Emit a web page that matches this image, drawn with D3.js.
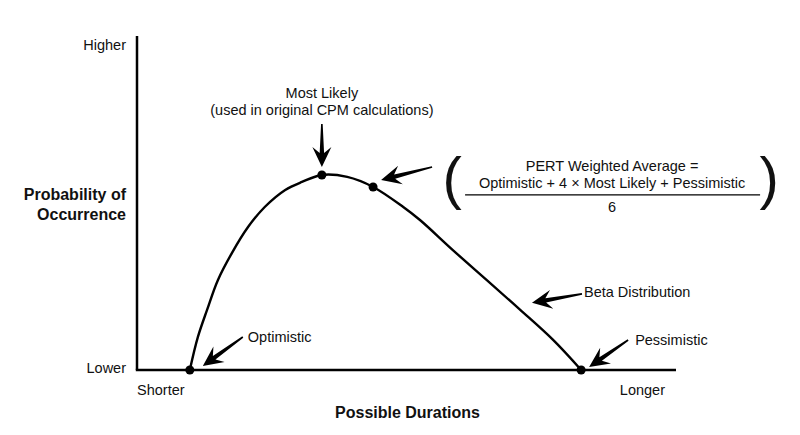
<!DOCTYPE html>
<html>
<head>
<meta charset="utf-8">
<script src="https://cdn.jsdelivr.net/npm/d3@7"></script>
<style>
  body { margin: 0; background: #fff; }
  text { font-family: "Liberation Sans", Arial, sans-serif; fill: #111; }
</style>
</head>
<body>
<svg id="chart"></svg>
<script>
// curve (x: 0 = shorter, 100 = longer; y: 0 = lower, 100 = higher)
const curveX = [9.8, 11.3, 13.0, 15.0, 17.6, 20.6, 23.7, 27.5, 30.6, 34.3, 39.0, 43.8, 49.4, 52.5, 58.6, 64.9, 71.1, 77.2, 82.4];
const curveY = [0, 9.9, 18.0, 26.9, 35.0, 42.8, 48.8, 53.9, 56.3, 58.4, 57.8, 54.8, 48.8, 44.9, 35.9, 26.9, 18.0, 9.0, 0];

// marked points on the curve
const pointNames = ['Optimistic', 'Most Likely', 'PERT', 'Pessimistic'];
const pointX = [9.8, 34.3, 43.8, 82.4];
const pointY = [0, 58.4, 54.8, 0];

// where the "Beta Distribution" arrow points at
const betaAt = [67.9, 20.1];

const yTickLabels = ['Lower', 'Higher'];
const xTickLabels = ['Shorter', 'Longer'];

const config = {
    width: 800,
    height: 435,
    margin: { top: 36, right: 124, bottom: 65, left: 137 }
};

const innerW = config.width - config.margin.left - config.margin.right;
const innerH = config.height - config.margin.top - config.margin.bottom;

const svg = d3.select('#chart')
    .attr('width', config.width)
    .attr('height', config.height);

const chart = svg.append('g')
    .attr('transform', `translate(${config.margin.left}, ${config.margin.top})`);

const x = d3.scaleLinear().domain([0, 100]).range([0, innerW]);
const y = d3.scaleLinear().domain([0, 100]).range([innerH, 0]);

// axes (plain lines, tick labels only at the ends)
chart.append('line')
    .attr('x1', x(0)).attr('x2', x(0))
    .attr('y1', y(100)).attr('y2', y(0))
    .attr('stroke', '#000').attr('stroke-width', 2.5);

chart.append('line')
    .attr('x1', x(0) - 1.2).attr('x2', x(100))
    .attr('y1', y(0)).attr('y2', y(0))
    .attr('stroke', '#000').attr('stroke-width', 2.5);

chart.selectAll('.y-tick')
    .data(yTickLabels)
    .enter().append('text')
    .attr('class', 'y-tick')
    .attr('x', -11)
    .attr('y', (d, i) => y(i * 100) + (i === 0 ? 3 : 14))
    .attr('text-anchor', 'end')
    .style('font-size', '14.5px')
    .text(d => d);

chart.selectAll('.x-tick')
    .data(xTickLabels)
    .enter().append('text')
    .attr('class', 'x-tick')
    .attr('x', (d, i) => i === 0 ? x(0) : x(100) - 11)
    .attr('y', y(0) + 25)
    .attr('text-anchor', (d, i) => i === 0 ? 'start' : 'end')
    .style('font-size', '14.5px')
    .text(d => d);

// axis titles
const yTitle = chart.append('text')
    .attr('text-anchor', 'end')
    .style('font-size', '16px')
    .style('font-weight', 'bold');
yTitle.append('tspan').attr('x', -11).attr('y', 164).text('Probability of');
yTitle.append('tspan').attr('x', -11).attr('y', 184).text('Occurrence');

chart.append('text')
    .attr('x', innerW / 2 + 1)
    .attr('y', y(0) + 48)
    .attr('text-anchor', 'middle')
    .style('font-size', '16px')
    .style('font-weight', 'bold')
    .text('Possible Durations');

// the beta curve
const curveData = curveX.map((d, i) => ({ x: d, y: curveY[i] }));
const line = d3.line()
    .x(d => x(d.x))
    .y(d => y(d.y))
    .curve(d3.curveCatmullRom.alpha(0.5));

chart.append('path')
    .datum(curveData)
    .attr('d', line)
    .attr('fill', 'none')
    .attr('stroke', '#000')
    .attr('stroke-width', 2.4);

const points = pointNames.map((d, i) => ({ name: d, x: pointX[i], y: pointY[i] }));

chart.selectAll('.dot')
    .data(points)
    .enter().append('circle')
    .attr('class', 'dot')
    .attr('cx', d => x(d.x))
    .attr('cy', d => y(d.y))
    .attr('r', 4.5)
    .attr('fill', '#000');

// arrow drawn as a tapered shaft with a swept head
function arrow(x1, y1, x2, y2) {
    const L = Math.hypot(x2 - x1, y2 - y1);
    const a = Math.atan2(y2 - y1, x2 - x1) * 180 / Math.PI;
    const hl = 20, hw = 9.5;
    const pts = [
        [0, -0.8], [L - hl * 0.7, -2.2], [L - hl, -hw], [L, 0],
        [L - hl, hw], [L - hl * 0.7, 2.2], [0, 0.8]
    ];
    chart.append('path')
        .attr('d', 'M' + pts.map(p => p.join(',')).join('L') + 'Z')
        .attr('transform', `translate(${x1},${y1}) rotate(${a})`)
        .attr('fill', '#000');
}

// annotations, offsets in pixels from their anchor
const annos = [
    { anchor: points[0], tail: [53, -33], tip: [13, -4], label: [58, -28], anchorText: 'start', lines: ['Optimistic'] },
    { anchor: points[1], tail: [0, -51], tip: [0, -8], label: [0, -77], anchorText: 'middle', lines: ['Most Likely', '(used in original CPM calculations)'] },
    { anchor: points[2], tail: [59, -20], tip: [8, -7], label: null },
    { anchor: points[3], tail: [47, -30], tip: [8, -3], label: [54, -25], anchorText: 'start', lines: ['Pessimistic'] },
    { anchor: { x: betaAt[0], y: betaAt[1] }, tail: [79, -9], tip: [29, 0], label: [81, -6], anchorText: 'start', lines: ['Beta Distribution'] }
];

annos.forEach(a => {
    const ax = x(a.anchor.x), ay = y(a.anchor.y);
    arrow(ax + a.tail[0], ay + a.tail[1], ax + a.tip[0], ay + a.tip[1]);
    if (!a.label) return;
    const t = chart.append('text')
        .attr('text-anchor', a.anchorText)
        .style('font-size', '14.5px');
    a.lines.forEach((s, i) => {
        t.append('tspan')
            .attr('x', ax + a.label[0])
            .attr('y', ay + a.label[1] + i * 17.5)
            .text(s);
    });
});

// PERT formula block, placed relative to the PERT point
const px = x(points[2].x), py = y(points[2].y);
const formula = chart.append('g').attr('transform', `translate(${px + 239}, ${py - 16})`);

formula.append('text')
    .attr('x', 0).attr('y', 0)
    .attr('text-anchor', 'middle')
    .style('font-size', '14.5px')
    .text('PERT Weighted Average =');

formula.append('text')
    .attr('x', 0).attr('y', 17)
    .attr('text-anchor', 'middle')
    .style('font-size', '14.5px')
    .text('Optimistic + 4 \u00d7 Most Likely + Pessimistic');

formula.append('line')
    .attr('x1', -147).attr('x2', 148)
    .attr('y1', 24).attr('y2', 24)
    .attr('stroke', '#000').attr('stroke-width', 1.2);

formula.append('text')
    .attr('x', 0).attr('y', 41)
    .attr('text-anchor', 'middle')
    .style('font-size', '14.5px')
    .text('6');

formula.selectAll('.paren')
    .data(['(', ')'])
    .enter().append('text')
    .attr('class', 'paren')
    .attr('x', (d, i) => i === 0 ? -160 : 157)
    .attr('y', 27)
    .attr('text-anchor', 'middle')
    .style('font-size', '58px')
    .text(d => d);
</script>
</body>
</html>
